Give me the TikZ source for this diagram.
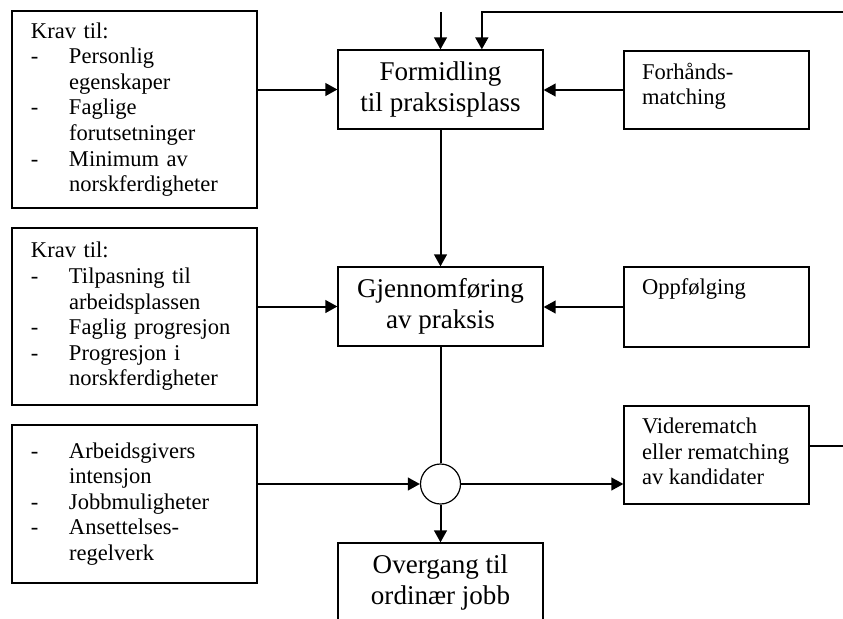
\documentclass[tikz,border=0pt]{standalone}
\usepackage{fontspec}
\setmainfont{Liberation Serif}
\usetikzlibrary{arrows.meta,positioning}
\newcommand{\pkt}{\makebox[28.5pt][l]{-}}
\newcommand{\inn}{\hspace*{28.5pt}}
\newcommand{\liten}{\fontsize{16.9}{19.2}\selectfont}
\newcommand{\stor}{\fontsize{20.3}{22.8}\selectfont}
\tikzset{
  krav/.style={draw, line width=0.9pt, minimum width=183.75pt, text width=155.25pt, inner xsep=14.25pt, align=left, font=\liten},
  hoved/.style={draw, line width=0.9pt, minimum width=153.75pt, minimum height=59.25pt, align=center, font=\stor},
  side/.style={draw, line width=0.9pt, inner xsep=13.5pt, inner ysep=9pt, font=\liten},
  pil/.style={line width=1.5pt, -{Triangle[length=9pt,width=9.5pt]}},
  linje/.style={line width=1.5pt}
}

\begin{document}
\begin{tikzpicture}[x=0.75pt, y=-0.75pt]
  \useasboundingbox (0,0) rectangle (843,618);
  % ------------------------------------------------------------ left column
  \node[krav, minimum height=147.75pt] (kravA) at (134.5,109.5) {Krav til:\\ \pkt Personlig\\ \inn egenskaper\\ \pkt Faglige\\ \inn forutsetninger\\ \pkt Minimum av\\ \inn norskferdigheter};
  \node[krav, minimum height=132.75pt] (kravB) at (134.5,316.5) {Krav til:\\ \pkt Tilpasning til\\ \inn arbeidsplassen\\ \pkt Faglig progresjon\\ \pkt Progresjon i\\ \inn norskferdigheter};
  \node[krav, minimum height=118.5pt] (kravC) at (134.5,504) {\pkt Arbeidsgivers\\ \inn intensjon\\ \pkt Jobbmuligheter\\ \pkt Ansettelses-\\ \inn regelverk};
  % ------------------------------------------------------------ middle column
  \node[hoved] (formidling) at (440.5,89.5) {Formidling\\til praksisplass};
  \node[hoved] (gjennom) at (440.5,306.5) {Gjennomføring\\av praksis};
  \node[circle, draw, line width=0.9pt, minimum size=30pt, inner sep=0pt] (sirkel) at (440.5,484) {};
  \node[hoved] (overgang) at (440.5,582.5) {Overgang til\\ordinær jobb};
  % ------------------------------------------------------------ right column
  \node[side] (forhand) at (716.5,90) {\parbox[c][40.5pt][t]{111.75pt}{Forhånds-\\matching}};
  \node[side] (oppf) at (716.5,307) {\parbox[c][42pt][t]{111.75pt}{Oppfølging}};
  \node[side] (videre) at (716.5,455) {\parbox[c][55.5pt][t]{111.75pt}{Viderematch\\eller rematching\\av kandidater}};
  \coordinate (inn) at (440.5,12);
  \coordinate (retur) at (843,12);
  \coordinate (ut) at (843,446);
  % ------------------------------------------------------------ connectors
  \draw[pil] (inn) -- (formidling.north);
  \draw[pil, line width=1.8pt] (retur) -| ([xshift=31pt]formidling.north);
  \draw[pil] (kravA.east |- formidling.west) -- (formidling.west);
  \draw[pil] (forhand.west) -- (forhand.west -| formidling.east);
  \draw[pil] (formidling) -- (gjennom);
  \draw[pil] (kravB.east |- gjennom.west) -- (gjennom.west);
  \draw[pil] (oppf.west) -- (oppf.west -| gjennom.east);
  \draw[linje] (gjennom) -- (sirkel);
  \draw[pil] (kravC.east |- sirkel.west) -- (sirkel.west);
  \draw[pil] (sirkel.east) -- (sirkel.east -| videre.west);
  \draw[pil] (sirkel) -- (overgang);
  \draw[linje, line width=1.8pt] (ut -| videre.east) -- (ut);
\end{tikzpicture}
\end{document}
